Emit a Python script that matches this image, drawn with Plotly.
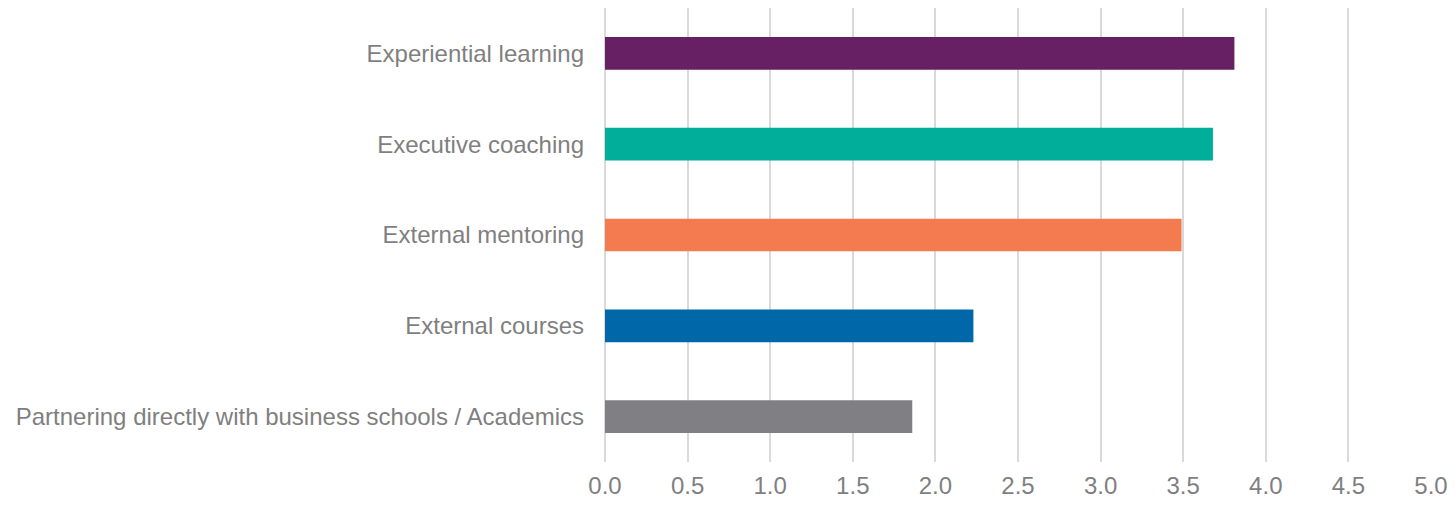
import plotly.graph_objects as go

# categories, bottom to top as drawn
categories = [
    "Partnering directly with business schools / Academics",
    "External courses",
    "External mentoring",
    "Executive coaching",
    "Experiential learning",
]
values = [1.86, 2.23, 3.49, 3.68, 3.81]
colors = ["#808084", "#0068A9", "#F47B50", "#00AE9A", "#662063"]
x_ticks = [0.0, 0.5, 1.0, 1.5, 2.0, 2.5, 3.0, 3.5, 4.0, 4.5, 5.0]

fig = go.Figure()

fig.add_trace(go.Bar(
    x=values,
    y=categories,
    orientation="h",
    marker=dict(color=colors, line=dict(width=0)),
    width=0.36,
    showlegend=False,
))

# page body has an 8px margin, so keep the figure inside the window
fig.update_layout(
    width=1439,
    height=490,
    plot_bgcolor="white",
    paper_bgcolor="white",
    font=dict(family="Liberation Sans, Arial, sans-serif", size=24, color="#7f7f7f"),
    margin=dict(l=597, r=16, t=0, b=36),
    bargap=0.64,
)

fig.update_xaxes(
    range=[0, 5.0],
    tickvals=x_ticks,
    ticktext=[f"{v:.1f}" for v in x_ticks],
    showgrid=True,
    gridcolor="#d9d9d9",
    gridwidth=2,
    zeroline=True,
    zerolinecolor="#d9d9d9",
    zerolinewidth=2,
    showline=False,
    ticks="",
    ticklabelstandoff=7,
    ticklabeloverflow="allow",
    automargin=False,
    tickfont=dict(size=24, color="#7f7f7f"),
)

fig.update_yaxes(
    categoryorder="array",
    categoryarray=categories,
    showgrid=False,
    showline=False,
    ticks="",
    ticklabelstandoff=20,
    automargin=False,
    tickfont=dict(size=24, color="#7f7f7f"),
)

fig.write_html("out.html")
